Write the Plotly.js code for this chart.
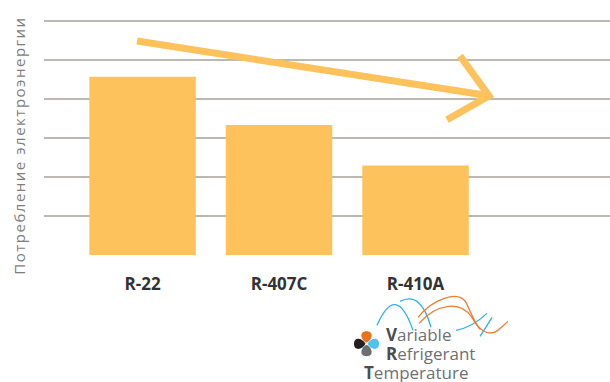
<!DOCTYPE html>
<html>
<head>
<meta charset="utf-8">
<script src="https://cdn.plot.ly/plotly-3.0.1.min.js"></script>
<style>
  html, body { margin: 0; padding: 0; background: #fff; }
  #chart { width: 610px; height: 382px; }
</style>
</head>
<body>
<div id="chart"></div>
<script>
// ---- data ----
const categories = ['R-22', 'R-407C', 'R-410A'];
const energyValues = [4.56, 3.33, 2.29];
const gridTicks = [0, 1, 2, 3, 4, 5, 6];
const yTitle = 'Потребление электроэнергии';
const logoWords = ['Variable', 'Refrigerant', 'Temperature'];

// ---- layout geometry ----
const W = 610, H = 382;
const M = { l: 44, r: 0, t: 10, b: 126.5 };
const PW = W - M.l - M.r, PH = H - M.t - M.b;
// decoration helper: pixel -> paper
function px(x) { return (x - M.l) / PW; }
function py(y) { return (H - M.b - y) / PH; }
function pathPx(cmds) {
  return cmds.map(c => {
    if (typeof c === 'string') return c;
    return px(c[0]).toFixed(5) + ',' + py(c[1]).toFixed(5);
  }).join(' ');
}

const barColor = '#FDC25C';

const trace = {
  type: 'bar',
  x: categories.map((_, i) => i),
  y: energyValues,
  width: 0.78,
  marker: { color: barColor, line: { width: 0 } },
  hoverinfo: 'none'
};

const shapes = [];
// arrow (decoration)
shapes.push({
  type: 'path', xref: 'paper', yref: 'paper', layer: 'above',
  path: pathPx(['M', [137, 41], 'L', [486, 95.5]]),
  line: { color: barColor, width: 7 }
});
shapes.push({
  type: 'path', xref: 'paper', yref: 'paper', layer: 'above',
  path: pathPx(['M', [460, 56], 'L', [489, 96], 'L', [447, 120]]),
  line: { color: barColor, width: 7 }
});

// logo petals (teardrops pointing to the centre)
function petal(cx, cy, ux, uy, color) {
  const L = 11.5, w = 8, k = 2.5;
  const vx = -uy, vy = ux;
  const T = [cx + ux * 1.0, cy + uy * 1.0];
  const F = [T[0] + ux * L, T[1] + uy * L];
  const c1 = [T[0] + ux * k + vx * w * 0.7, T[1] + uy * k + vy * w * 0.7];
  const c2 = [F[0] + vx * w, F[1] + vy * w];
  const c3 = [F[0] - vx * w, F[1] - vy * w];
  const c4 = [T[0] + ux * k - vx * w * 0.7, T[1] + uy * k - vy * w * 0.7];
  shapes.push({
    type: 'path', xref: 'paper', yref: 'paper', layer: 'above',
    path: pathPx(['M', T, 'C', c1, c2, F, 'C', c3, c4, T, 'Z']),
    fillcolor: color, line: { width: 0 }
  });
}
const cx = 366.5, cy = 344.5;
petal(cx, cy, 0, -1, '#E8731F');
petal(cx, cy, 1, 0, '#4EC3EF');
petal(cx, cy, 0, 1, '#6D6E70');
petal(cx, cy, -1, 0, '#231F20');

// logo waves
const blue = '#2AB4E6', orange = '#EE7D31';
const waves = [
  [blue, ['M', [377, 326], 'Q', [396, 282], [413, 331]]],
  [blue, ['M', [400, 302], 'Q', [421, 291], [431, 328]]],
  [blue, ['M', [456, 331], 'Q', [472, 328], [487, 314]]],
  [blue, ['M', [480, 337], 'Q', [486, 328], [492, 318]]],
  [orange, ['M', [418, 318], 'C', [432, 300], [458, 290], [466, 303], 'C', [470, 311], [474, 322], [480, 330]]],
  [orange, ['M', [419, 324], 'C', [435, 305], [460, 300], [472, 318], 'C', [478, 330], [488, 338], [498, 331], 'L', [508, 322]]]
];
waves.forEach(w => shapes.push({
  type: 'path', xref: 'paper', yref: 'paper', layer: 'above',
  path: pathPx(w[1]), line: { color: w[0], width: 1.3 }
}));

// logo text
const logoPos = [[383.5, 335], [383.5, 354.5], [362, 373.5]];
const annotations = logoWords.map((word, i) => ({
  xref: 'paper', yref: 'paper',
  x: px(logoPos[i][0]), y: py(logoPos[i][1]),
  xanchor: 'left', yanchor: 'middle',
  showarrow: false,
  text: '<span style="color:#4D4D4F"><b>' + word[0] + '</b></span>' + word.slice(1),
  font: { family: 'Open Sans', size: 17, color: '#6F7073' }
}));
// y-axis title (as rotated annotation so it can sit where the reference has it)
annotations.push({
  xref: 'paper', yref: 'paper',
  x: px(19), y: py(146),
  xanchor: 'center', yanchor: 'middle',
  textangle: -90, showarrow: false,
  text: '<span style="letter-spacing:1.5px">' + yTitle + '</span>',
  font: { family: 'Open Sans', size: 15, color: '#7E7E7E' }
});

const layout = {
  width: W, height: H,
  margin: M,
  paper_bgcolor: '#fff', plot_bgcolor: '#fff',
  showlegend: false,
  xaxis: {
    range: [-0.722, 3.425],
    tickvals: categories.map((_, i) => i),
    ticktext: categories,
    showgrid: false, zeroline: false, showline: false,
    ticks: '', ticklabelstandoff: 17,
    tickfont: { family: 'Open Sans', size: 17, color: '#333333', weight: 'bold' },
    fixedrange: true
  },
  yaxis: {
    range: [0, 6.27],
    tickvals: gridTicks,
    showticklabels: false,
    showgrid: true, gridcolor: '#BDB9B1', gridwidth: 2,
    zeroline: false, showline: false, ticks: '',
    automargin: false,
    fixedrange: true
  },
  shapes: shapes,
  annotations: annotations
};

Plotly.newPlot('chart', [trace], layout, { staticPlot: true, displayModeBar: false });
</script>
</body>
</html>
